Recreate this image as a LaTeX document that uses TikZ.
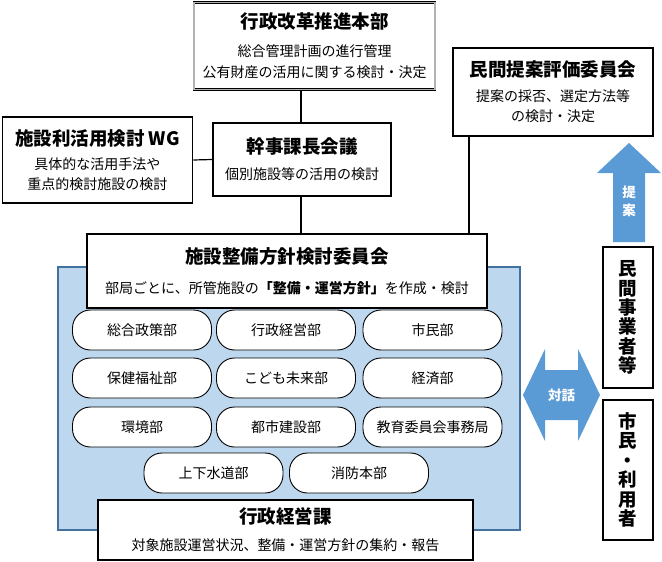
\documentclass[tikz,border=0pt]{standalone}
\usepackage{fontspec}
\setmainfont{Noto Sans CJK JP}
\usetikzlibrary{shapes.misc}
\definecolor{lblue}{HTML}{BDD7EE}
\definecolor{bblue}{HTML}{5B9BD5}
\definecolor{rblue}{HTML}{41719C}
\newcommand{\ttl}{\fontsize{18.5}{20}\selectfont\bfseries}
\begin{document}
\begin{tikzpicture}[x=1pt,y=-1pt,
  box/.style={draw=black, line width=1.6pt, fill=white, align=center, inner sep=0pt,
    font=\fontsize{14}{21}\selectfont},
  pill/.style={draw=black, line width=0.9pt, fill=white, rounded corners=18pt,
    minimum width=139pt, minimum height=40pt, inner sep=0pt, font=\fontsize{14}{15}\selectfont},
  vbox/.style={draw=black, line width=1.6pt, fill=white, align=center, inner sep=0pt,
    minimum width=50pt, font=\fontsize{18.5}{19.4}\selectfont\bfseries},
  conn/.style={line width=1.2pt},
  arr/.style={fill=bblue, draw=none},
  alabel/.style={text=white, align=center, font=\fontsize{13.5}{18}\selectfont\bfseries}
  ]
\useasboundingbox (0,0) rectangle (662,562);

% light blue department area
\node[draw=rblue, line width=1.6pt, fill=lblue, minimum width=462pt, minimum height=263pt, inner sep=0pt] (area) at (289,398.5) {};

% top box with double frame
\node[box, draw=black, line width=0.6pt, double=gray!60, double distance=1.6pt,
  minimum width=241pt, minimum height=87pt] (top) at (314.5,46)
  {{\ttl 行政改革推進本部}\\[7pt]総合管理計画の進行管理\\公有財産の活用に関する検討・決定};

\node[box, minimum width=190pt, minimum height=86pt] (wg) at (97.5,160)
  {{\ttl 施設利活用検討 WG}\\[3pt]具体的な活用手法や\\[-1pt]重点的検討施設の検討};

\node[box, minimum width=178pt, minimum height=73pt] (kanji) at (302,159.5)
  {{\ttl 幹事課長会議}\\[5pt]個別施設等の活用の検討};

\node[box, minimum width=200pt, minimum height=88pt] (minkan) at (553,92)
  {{\ttl 民間提案評価委員会}\\[4pt]提案の採否、選定方法等\\[-1pt]の検討・決定};

\node[box, minimum width=400pt, minimum height=74pt] (shisetsu) at (287,271)
  {{\ttl 施設整備方針検討委員会}\\[9pt]部局ごとに、所管施設の{\bfseries 「整備・運営方針」}を作成・検討};

\node[box, minimum width=375pt, minimum height=60pt] (gyosei) at (285.5,530)
  {{\ttl 行政経営課}\\[6pt]対象施設運営状況、整備・運営方針の集約・報告};

% departments
\node[pill] (d1) at (142,330) {総合政策部};
\node[pill] (d2) at (286,330) {行政経営部};
\node[pill] (d3) at (432.5,330) {市民部};
\node[pill] (d4) at (142,378) {保健福祉部};
\node[pill] (d5) at (286,378) {こども未来部};
\node[pill] (d6) at (432.5,378) {経済部};
\node[pill] (d7) at (142,427) {環境部};
\node[pill] (d8) at (286,427) {都市建設部};
\node[pill] (d9) at (432.5,427) {教育委員会事務局};
\node[pill] (d10) at (213.5,473) {上下水道部};
\node[pill] (d11) at (359,473) {消防本部};

% connectors
\coordinate (spine) at (301,0);
\coordinate (rline) at (469,0);
\draw[conn] (top.south -| spine) -- (kanji.north -| spine);
\draw[conn] (kanji.south -| spine) -- (shisetsu.north -| spine);
\draw[conn] (wg.east) -- (kanji.west);
\draw[conn] (minkan.south -| rline) -- (shisetsu.north -| rline);

% right side boxes
\node[vbox, minimum height=141pt] (jigyo) at (628,317.5) {民\\間\\事\\業\\者\\等};
\node[vbox, minimum height=140pt] (shimin) at (628,470) {市\\民\\・\\利\\用\\者};

% proposal arrow
\fill[arr] (613,242) -- (613,173) -- (597,173) -- (629,143) -- (661,173) -- (645,173) -- (645,242) -- cycle;
\node[alabel] (teian) at (629,201) {提\\案};

% dialogue double arrow
\fill[arr] (523,395) -- (545,349) -- (545,370) -- (578,370) -- (578,349) -- (600,395)
  -- (578,441) -- (578,420) -- (545,420) -- (545,441) -- cycle;
\node[alabel] (taiwa) at (561.5,395) {対話};
\end{tikzpicture}
\end{document}
